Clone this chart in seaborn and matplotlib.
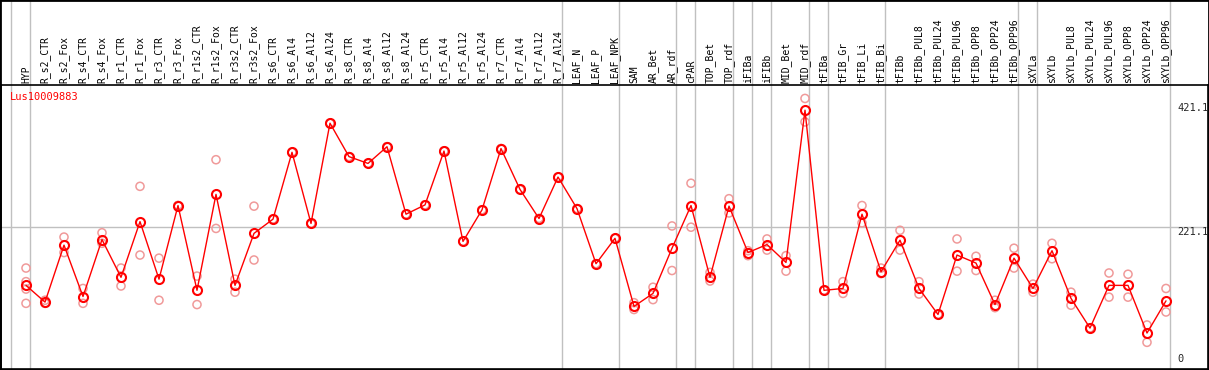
import numpy as np
import pandas as pd
import matplotlib
matplotlib.use("Agg")
import matplotlib.pyplot as plt
import matplotlib.transforms as mtransforms
from matplotlib.patches import Rectangle
import seaborn as sns

gene = "Lus10009883"

samples = [
    "HYP",
    "R_s2_CTR", "R_s2_Fox", "R_s4_CTR", "R_s4_Fox", "R_r1_CTR", "R_r1_Fox",
    "R_r3_CTR", "R_r3_Fox", "R_r1s2_CTR", "R_r1s2_Fox", "R_r3s2_CTR", "R_r3s2_Fox",
    "R_s6_CTR", "R_s6_Al4", "R_s6_Al12", "R_s6_Al24",
    "R_s8_CTR", "R_s8_Al4", "R_s8_Al12", "R_s8_Al24",
    "R_r5_CTR", "R_r5_Al4", "R_r5_Al12", "R_r5_Al24",
    "R_r7_CTR", "R_r7_Al4", "R_r7_Al12", "R_r7_Al24",
    "LEAF_N", "LEAF_P", "LEAF_NPK",
    "SAM", "AR_Bet", "AR_rdf",
    "cPAR",
    "TOP_Bet", "TOP_rdf",
    "iFIBa",
    "iFIBb",
    "MID_Bet", "MID_rdf",
    "tFIBa",
    "tFIB_Gr", "tFIB_Li", "tFIB_Bi",
    "tFIBb", "tFIBb_PUL8", "tFIBb_PUL24", "tFIBb_PUL96",
    "tFIBb_OPP8", "tFIBb_OPP24", "tFIBb_OPP96",
    "sXYLa",
    "sXYLb", "sXYLb_PUL8", "sXYLb_PUL24", "sXYLb_PUL96",
    "sXYLb_OPP8", "sXYLb_OPP24", "sXYLb_OPP96",
]

# number of samples in each tissue group (separated by grey lines)
group_sizes = [1, 28, 3, 3, 1, 2, 1, 1, 2, 1, 3, 7, 1, 7]

means = [
    127, 100, 192, 109, 201, 140, 230, 137, 256, 119, 274, 127, 211,
    234, 342, 227, 389, 335, 324, 351, 242, 257, 344, 198, 249, 348, 282, 235, 302,
    251, 162, 203,
    93, 114, 187,
    256,
    140, 255,
    180,
    193,
    164, 410,
    119,
    122, 242, 149,
    200, 122, 80, 176, 163, 96, 171,
    122,
    183, 106, 58, 127, 127, 50, 102,
]

replicates = [
    [155, 133, 121, 98],
    [103, 98], [205, 180], [122, 98], [212, 195], [155, 126], [287, 176],
    [171, 103], [256, 256], [142, 96], [330, 219], [137, 116], [255, 168],
    [234, 234], [342, 342], [227, 227], [389, 389],
    [335, 335], [324, 324], [351, 351], [242, 242],
    [257, 257], [344, 344], [198, 198], [249, 249],
    [348, 348], [282, 282], [235, 235], [302, 302],
    [251, 251], [162, 162], [203, 203],
    [99, 88], [124, 104], [223, 151],
    [292, 221],
    [148, 134], [267, 244],
    [175, 183],
    [202, 184],
    [175, 150], [429, 391],
    [119, 119],
    [133, 114], [256, 228], [155, 146],
    [216, 184], [133, 113], [80, 80], [202, 150],
    [174, 151], [103, 91], [187, 155],
    [129, 116],
    [195, 170], [116, 95], [58, 58], [147, 108],
    [145, 108], [63, 35], [122, 84],
]

ytick_values = [0, 221.1, 421.1]

pos = np.arange(len(samples))
df_mean = pd.DataFrame({"pos": pos, "value": means})
df_rep = pd.DataFrame(
    [(i, v) for i, vals in enumerate(replicates) for v in vals],
    columns=["pos", "value"],
)

sns.set_style("white")
plt.rcParams["font.family"] = ["DejaVu Sans Mono", "DejaVu Sans"]

W, H = 1209, 370
fig = plt.figure(figsize=(W / 100, H / 100), dpi=100)
ax = fig.add_axes([1 / W, 1 / H, 1207 / W, 284 / H])

# grid lines
ax.axhline(221.1, color="#c0c0c0", lw=1, zorder=0)
bounds = np.concatenate([[-1], np.cumsum(group_sizes) - 1]) + 0.23
for b in bounds:
    ax.axvline(b, ymin=0, ymax=1.31, color="#c0c0c0", lw=1, clip_on=False, zorder=0)

sns.scatterplot(data=df_rep, x="pos", y="value", ax=ax, marker="o",
                facecolor="none", edgecolor="#f09a9a", linewidth=1.1, s=34,
                zorder=2, legend=False)
sns.lineplot(data=df_mean, x="pos", y="value", ax=ax, color="red", lw=1,
             marker="o", markersize=6.5, markerfacecolor="none",
             markeredgecolor="red", markeredgewidth=1.5, zorder=3)

ax.set_xlim(-25 / 19, 1182 / 19)
ax.set_ylim(-8.1, 450.7)
ax.set_xticks([])
ax.set_yticks([])
ax.set_xlabel("")
ax.set_ylabel("")
for s in ax.spines.values():
    s.set_visible(True)
    s.set_color("black")
    s.set_linewidth(1.2)

# sample labels above the plot
trans = mtransforms.blended_transform_factory(ax.transData, ax.transAxes)
for i, name in enumerate(samples):
    ax.text(i, 1 + 2 / 284, name, transform=trans, rotation=90,
            ha="center", va="bottom", fontsize=7, color="black")

# value labels on the right
trans_y = mtransforms.blended_transform_factory(ax.transAxes, ax.transData)
for v in ytick_values:
    ax.text(1176 / 1207, v, "0" if v == 0 else f"{v:.1f}", transform=trans_y,
            ha="left", va="bottom" if v == 0 else "top", fontsize=7.5)

ax.text(9 / 1207, 1 - 7 / 284, gene, transform=ax.transAxes, ha="left",
        va="top", fontsize=7.5, color="red")

fig.patches.append(Rectangle((0, 0), 1, 1, transform=fig.transFigure,
                             fill=False, edgecolor="black", lw=2))

fig.savefig("out.png", dpi=100)
